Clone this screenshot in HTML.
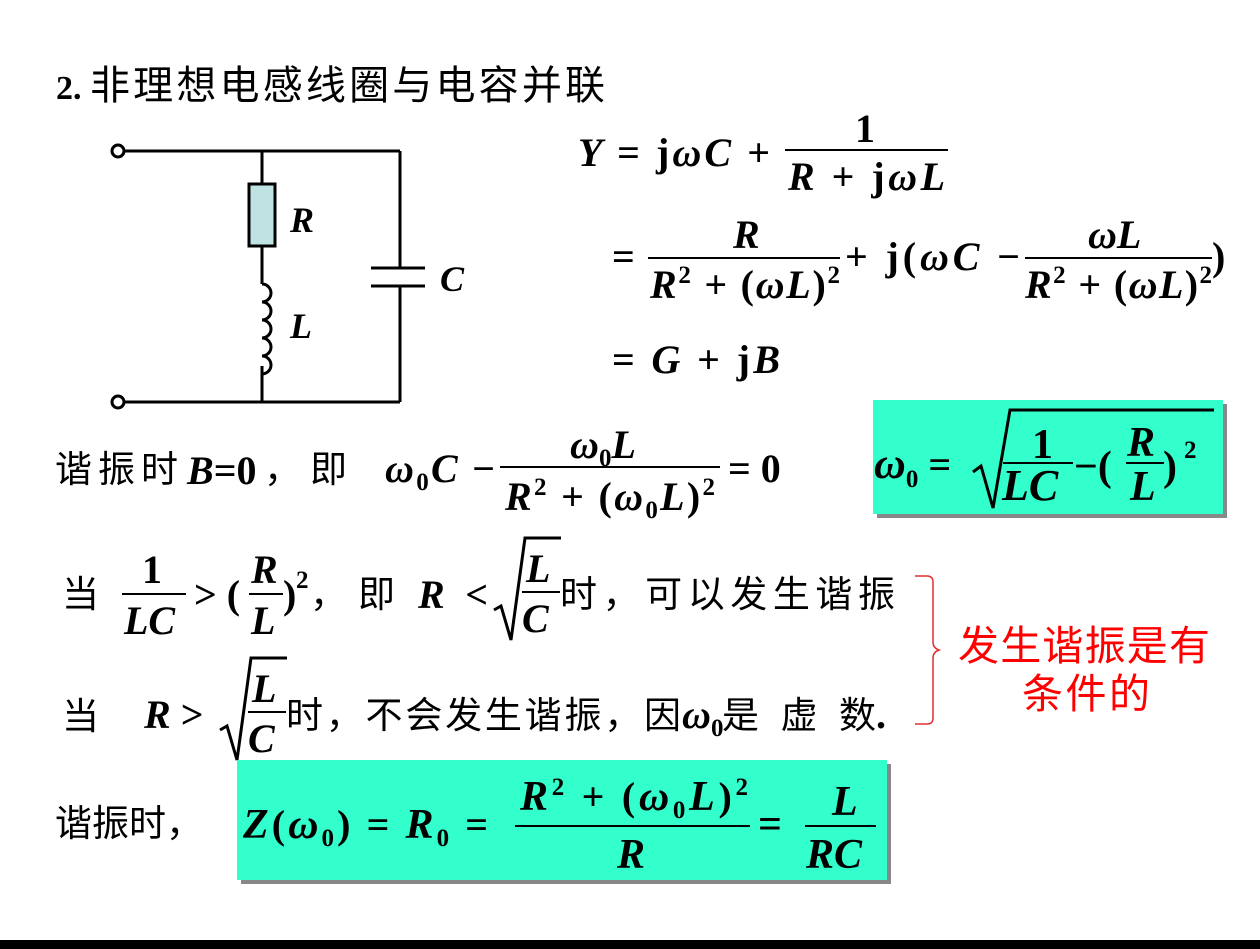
<!DOCTYPE html>
<html><head><meta charset="utf-8"><style>
body{margin:0;background:#fff;width:1260px;height:949px;overflow:hidden}
svg{display:block}
.m{font-family:"Liberation Serif",serif;font-weight:bold;font-style:italic;font-size:40px}
.u{font-family:"Liberation Serif",serif;font-weight:bold;font-style:normal;font-size:40px}
.c{font-family:"Liberation Sans","Noto Sans CJK SC",sans-serif;font-size:37px}
.s{font-size:25px}
</style></head><body>
<svg width="1260" height="949" viewBox="0 0 1260 949" xmlns="http://www.w3.org/2000/svg">
<rect x="0" y="940" width="1260" height="9" fill="#000"/>
<!-- title -->
<text x="56" y="99" class="u" style="font-size:34px">2.</text>
<text x="90" y="99" class="c" style="font-size:40px" textLength="515" lengthAdjust="spacing">非理想电感线圈与电容并联</text>
<!-- circuit -->
<g stroke="#000" stroke-width="3" fill="none">
<circle cx="118" cy="151" r="6" fill="#fff"/>
<circle cx="118" cy="402" r="6" fill="#fff"/>
<line x1="124" y1="151" x2="400" y2="151"/>
<line x1="124" y1="402" x2="400" y2="402"/>
<line x1="262" y1="151" x2="262" y2="184"/>
<rect x="249" y="184" width="26" height="62" fill="#bfe3e3"/>
<line x1="262" y1="246" x2="262" y2="284"/>
<path d="M262 284 a9 9 0 0 1 0 18 a9 9 0 0 1 0 18 a9 9 0 0 1 0 18 a9 9 0 0 1 0 18 a9 9 0 0 1 0 18"/>
<line x1="262" y1="366" x2="262" y2="402"/>
<line x1="400" y1="151" x2="400" y2="268"/>
<line x1="400" y1="286" x2="400" y2="402"/>
<line x1="371" y1="268" x2="425" y2="268"/>
<line x1="371" y1="286" x2="425" y2="286"/>
</g>
<text x="290" y="232" class="m" style="font-size:36px">R</text>
<text x="290" y="338" class="m" style="font-size:36px">L</text>
<text x="440" y="291" class="m" style="font-size:36px">C</text>
<!-- Y formula -->
<text x="578" y="166" class="m" textLength="192" lengthAdjust="spacing">Y <tspan class="u">=</tspan> <tspan class="u">j</tspan>ωC <tspan class="u">+</tspan></text>
<text x="855" y="142" class="u">1</text>
<line x1="785" y1="150" x2="948" y2="150" stroke="#000" stroke-width="2"/>
<text x="788" y="190" class="m" textLength="157" lengthAdjust="spacing">R <tspan class="u">+ j</tspan>ωL</text>
<!-- line 2 -->
<text x="612" y="270" class="u">=</text>
<text x="733" y="248" class="m">R</text>
<line x1="648" y1="258" x2="840" y2="258" stroke="#000" stroke-width="2"/>
<text x="650" y="298" class="m" textLength="190" lengthAdjust="spacing">R<tspan class="u s" dy="-15">2</tspan><tspan class="u" dy="15"> + (</tspan>ωL<tspan class="u">)</tspan><tspan class="u s" dy="-15">2</tspan></text>
<text x="845" y="270" class="u" textLength="175" lengthAdjust="spacing">+ j(<tspan class="m">ωC</tspan> −</text>
<text x="1088" y="248" class="m">ωL</text>
<line x1="1025" y1="258" x2="1212" y2="258" stroke="#000" stroke-width="2"/>
<text x="1025" y="298" class="m" textLength="187" lengthAdjust="spacing">R<tspan class="u s" dy="-15">2</tspan><tspan class="u" dy="15"> + (</tspan>ωL<tspan class="u">)</tspan><tspan class="u s" dy="-15">2</tspan></text>
<text x="1212" y="270" class="u">)</text>
<!-- line 3 -->
<text x="612" y="373" class="u" textLength="168" lengthAdjust="spacing">= <tspan class="m">G</tspan> + j<tspan class="m">B</tspan></text>
<!-- resonance -->
<text x="55" y="482" class="c" textLength="123" lengthAdjust="spacing">谐振时</text>
<text x="187" y="484" class="m" style="font-size:40px">B<tspan class="u">=0</tspan></text>
<text x="264" y="482" class="c">，</text>
<text x="310" y="482" class="c">即</text>
<text x="385" y="482" class="m" textLength="110" lengthAdjust="spacing">ω<tspan class="u s" dy="8">0</tspan><tspan dy="-8">C</tspan> <tspan class="u">−</tspan></text>
<text x="570" y="458" class="m">ω<tspan class="u s" dy="8">0</tspan><tspan dy="-8">L</tspan></text>
<line x1="500" y1="467" x2="720" y2="467" stroke="#000" stroke-width="2"/>
<text x="505" y="510" class="m" textLength="210" lengthAdjust="spacing">R<tspan class="u s" dy="-15">2</tspan><tspan class="u" dy="15"> + (</tspan>ω<tspan class="u s" dy="8">0</tspan><tspan dy="-8">L</tspan><tspan class="u">)</tspan><tspan class="u s" dy="-15">2</tspan></text>
<text x="728" y="482" class="u">= 0</text>
<!-- box1 -->
<rect x="877" y="404" width="350" height="114" fill="#888"/>
<rect x="873" y="400" width="350" height="114" fill="#33ffcc"/>
<text x="874" y="478" class="m" style="font-size:44px">ω<tspan class="u s" dy="9">0</tspan><tspan class="u" dy="-9"> =</tspan></text>
<path d="M973 472 l8 -6 l12 42 l17 -98 h204" stroke="#000" stroke-width="3" fill="none"/>
<text x="1032" y="458" class="u" style="font-size:42px">1</text>
<line x1="1003" y1="463" x2="1073" y2="463" stroke="#000" stroke-width="2"/>
<text x="1002" y="500" class="m" style="font-size:44px">LC</text>
<text x="1074" y="480" class="u" style="font-size:42px">−(</text>
<text x="1127" y="456" class="m" style="font-size:42px">R</text>
<line x1="1126" y1="463" x2="1164" y2="463" stroke="#000" stroke-width="2"/>
<text x="1130" y="500" class="m" style="font-size:42px">L</text>
<text x="1163" y="480" class="u" style="font-size:42px">)</text>
<text x="1184" y="458" class="u s">2</text>
<!-- line 当1 -->
<text x="62" y="607" class="c">当</text>
<text x="142" y="583" class="u">1</text>
<line x1="122" y1="594" x2="186" y2="594" stroke="#000" stroke-width="2"/>
<text x="124" y="634" class="m">LC</text>
<text x="194" y="608" class="u">&gt; (</text>
<text x="251" y="583" class="m">R</text>
<line x1="249" y1="594" x2="283" y2="594" stroke="#000" stroke-width="2"/>
<text x="251" y="634" class="m">L</text>
<text x="283" y="608" class="u">)</text>
<text x="296" y="588" class="u s">2</text>
<text x="310" y="607" class="c">，</text>
<text x="358" y="607" class="c">即</text>
<text x="418" y="608" class="m" textLength="70" lengthAdjust="spacing">R <tspan class="u">&lt;</tspan></text>
<path d="M494 610 l7 -4 l10 34 l14 -102 h36" stroke="#000" stroke-width="3" fill="none"/>
<text x="526" y="582" class="m">L</text>
<line x1="522" y1="592" x2="560" y2="592" stroke="#000" stroke-width="2"/>
<text x="522" y="632" class="m">C</text>
<text x="560" y="607" class="c" textLength="335" lengthAdjust="spacing">时，可以发生谐振</text>
<!-- line 当2 -->
<text x="62" y="729" class="c">当</text>
<text x="144" y="728" class="m">R <tspan class="u">&gt;</tspan></text>
<path d="M220 730 l7 -4 l10 34 l14 -102 h36" stroke="#000" stroke-width="3" fill="none"/>
<text x="252" y="702" class="m">L</text>
<line x1="248" y1="712" x2="286" y2="712" stroke="#000" stroke-width="2"/>
<text x="248" y="752" class="m">C</text>
<text x="286" y="728" class="c" textLength="395" lengthAdjust="spacing">时，不会发生谐振，因</text>
<text x="682" y="728" class="m">ω<tspan class="u s" dy="8">0</tspan></text>
<text x="722" y="728" class="c" textLength="154" lengthAdjust="spacing">是虚数</text>
<text x="876" y="728" class="u">.</text>
<!-- brace -->
<path d="M915 576 h12 q6 0 6 6 v60 q0 6 6 8 q-6 2 -6 8 v60 q0 6 -6 6 h-12" stroke="#e03030" stroke-width="1.5" fill="none"/>
<text x="958" y="660" class="c" style="fill:#ff0000;font-size:41px" textLength="252" lengthAdjust="spacing">发生谐振是有</text>
<text x="1022" y="708" class="c" style="fill:#ff0000;font-size:41px" textLength="128" lengthAdjust="spacing">条件的</text>
<!-- last -->
<text x="55" y="836" class="c">谐振时，</text>
<rect x="241" y="764" width="650" height="120" fill="#888"/>
<rect x="237" y="760" width="650" height="120" fill="#33ffcc"/>
<text x="243" y="838" class="m" style="font-size:42px" textLength="245" lengthAdjust="spacing">Z<tspan class="u">(</tspan>ω<tspan class="u s" dy="8">0</tspan><tspan class="u" dy="-8">) = </tspan>R<tspan class="u s" dy="8">0</tspan><tspan class="u" dy="-8"> =</tspan></text>
<text x="520" y="810" class="m" style="font-size:42px" textLength="228" lengthAdjust="spacing">R<tspan class="u s" dy="-15">2</tspan><tspan class="u" dy="15"> + (</tspan>ω<tspan class="u s" dy="8">0</tspan><tspan dy="-8">L</tspan><tspan class="u">)</tspan><tspan class="u s" dy="-15">2</tspan></text>
<line x1="515" y1="826" x2="750" y2="826" stroke="#000" stroke-width="2"/>
<text x="617" y="868" class="m" style="font-size:42px">R</text>
<text x="758" y="838" class="u" style="font-size:42px">=</text>
<text x="832" y="815" class="m" style="font-size:42px">L</text>
<line x1="805" y1="826" x2="876" y2="826" stroke="#000" stroke-width="2"/>
<text x="806" y="868" class="m" style="font-size:42px">RC</text>
</svg>
</body></html>
